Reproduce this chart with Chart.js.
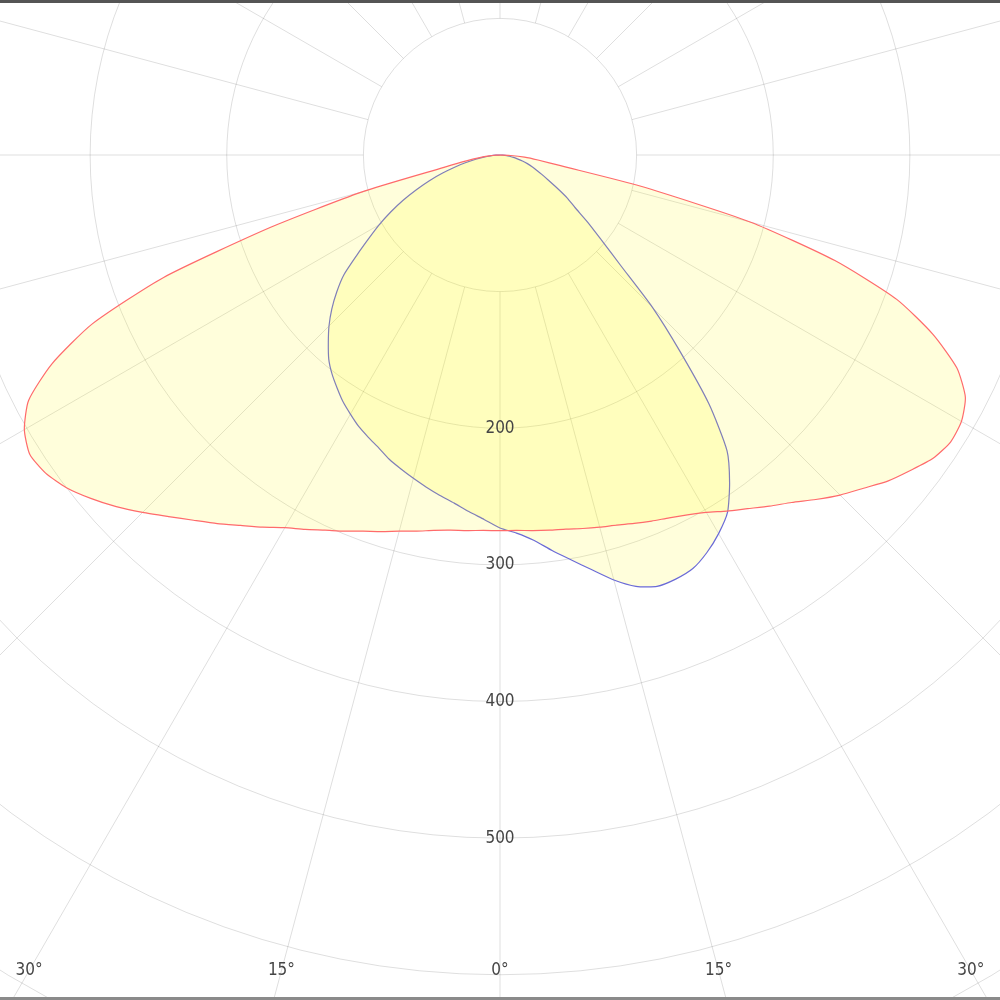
<!DOCTYPE html>
<html>
<head>
<meta charset="utf-8">
<title>Luminous intensity distribution</title>
<script src="https://cdn.jsdelivr.net/npm/chart.js@4.4.1/dist/chart.umd.min.js"></script>
<style>
  html, body { margin: 0; padding: 0; background: #fff; }
  #frame { position: relative; width: 1000px; height: 1000px; overflow: hidden; background: #fff; }
  /* the polar diagram is much bigger than the page: centre sits at (500,155) */
  #holder { position: absolute; left: -593px; top: -938px; width: 2186px; height: 2186px; }
  #edge { position: absolute; left: 0; top: 0; width: 1000px; height: 1000px; box-sizing: border-box;
          border-top: 3px solid #555; border-bottom: 3px solid #8a8a8a; pointer-events: none; }
</style>
</head>
<body>
<div id="frame">
  <div id="holder"><canvas id="polar-chart" width="2186" height="2186"></canvas></div>
  <div id="edge"></div>
</div>
<script>
// gamma angle from straight down, negative = left half, -90 .. 90 in 2.5 deg steps
const angleStep = 2.5;
const gammaAngles = [];
for (let g = -90; g <= 90; g += angleStep) gammaAngles.push(g);

// C0-C180 plane (red), cd/klm
const planeRed = [
  0, 3, 8, 15, 25, 42, 105, 176, 262, 323,
  362, 389, 402, 408, 406, 400, 391, 381, 370, 359,
  349, 340, 331, 323, 315, 309, 303, 298, 293, 289,
  285, 282, 279, 277, 276, 275,
  275,
  275, 276, 277, 278, 280, 282, 284, 287, 290, 293,
  297, 302, 309, 316, 324, 332, 342, 352, 361, 371,
  379, 387, 391, 390, 384, 369, 343, 309, 257, 190,
  105, 45, 28, 18, 8, 0
];

// C90-C270 plane (blue)
const planeBlue = [
  0, 3, 7, 12, 18, 26, 34, 44, 55, 66,
  78, 90, 102, 114, 128, 144, 156, 167, 177, 186,
  195, 202, 208, 214, 219, 224, 228, 232, 237, 241,
  245, 249, 253, 257, 262, 267,
  273,
  277, 283, 292, 301, 311, 322, 331, 336, 336, 334,
  328, 320, 310, 293, 273, 238, 195, 158, 120, 97,
  81, 67, 58, 48, 40, 34, 29, 25, 21, 17,
  13, 10, 7, 5, 2, 0
];

const ringStep = 100;
const ringMax = 800;
const ringLabels = [200, 300, 400, 500];
const angleLabelGammas = [-30, -15, 0, 15, 30];
const angleLabelRow = 597;   // value on the 0° spoke where the degree labels sit
const spokeStep = 15;

const gridColor = 'rgba(0,0,0,0.13)';
const labelFont = '17px "DejaVu Sans Condensed", "DejaVu Sans", sans-serif';

// radar index 0 points down, indices run clockwise (into the left half first)
const slots = Math.round(360 / angleStep);
const radarLabels = [];
for (let i = 0; i < slots; i++) radarLabels.push(i * angleStep + '°');

function toRadarOrder(values) {
  const out = [];
  const half = Math.round(90 / angleStep);
  for (let i = 0; i < slots; i++) {
    let k = null;
    if (i <= half) k = half - i;                       // left half, gamma = -i*step
    else if (i >= slots - half) k = half + (slots - i); // right half
    out.push(k === null ? 0 : values[k]);
  }
  return out;
}

const polarDecor = {
  id: 'polarDecor',
  beforeDatasetsDraw(chart) {
    const r = chart.scales.r;
    const ctx = chart.ctx;
    const inner = r.getDistanceFromCenterForValue(ringStep);
    ctx.save();
    ctx.strokeStyle = gridColor;
    ctx.lineWidth = 1;
    for (let i = 0; i < slots; i += Math.round(spokeStep / angleStep)) {
      const a = r.getPointPosition(i, inner);
      const b = r.getPointPosition(i, r.drawingArea);
      ctx.beginPath();
      ctx.moveTo(a.x, a.y);
      ctx.lineTo(b.x, b.y);
      ctx.stroke();
    }
    ctx.restore();
  },
  afterDatasetsDraw(chart) {
    const r = chart.scales.r;
    const ctx = chart.ctx;
    ctx.save();
    ctx.font = labelFont;
    ctx.fillStyle = '#454545';
    ctx.textAlign = 'center';
    ctx.textBaseline = 'middle';
    ringLabels.forEach(v => {
      const p = r.getPointPosition(0, r.getDistanceFromCenterForValue(v));
      ctx.fillText(String(v), p.x, p.y);
    });
    const row = r.getDistanceFromCenterForValue(angleLabelRow);
    angleLabelGammas.forEach(g => {
      const x = r.xCenter + row * Math.tan(g * Math.PI / 180);
      ctx.fillText(Math.abs(g) + '°', x, r.yCenter + row);
    });
    ctx.restore();
  }
};

const ctx = document.getElementById('polar-chart').getContext('2d');
new Chart(ctx, {
  type: 'radar',
  data: {
    labels: radarLabels,
    datasets: [
      {
        label: 'C0-C180',
        data: toRadarOrder(planeRed),
        borderColor: '#ff6b6b',
        backgroundColor: 'rgba(255,245,0,0.14)',
        borderWidth: 1.2,
        fill: true,
        tension: 0.2,
        pointRadius: 0
      },
      {
        label: 'C90-C270',
        data: toRadarOrder(planeBlue),
        borderColor: '#6b6bd6',
        backgroundColor: 'rgba(255,245,0,0.14)',
        borderWidth: 1.2,
        fill: true,
        tension: 0.2,
        pointRadius: 0
      }
    ]
  },
  options: {
    responsive: false,
    animation: false,
    layout: { padding: 0 },
    plugins: {
      legend: { display: false },
      tooltip: { enabled: false }
    },
    scales: {
      r: {
        min: 0,
        max: ringMax,
        startAngle: 180,
        ticks: { display: false, stepSize: ringStep },
        grid: { circular: true, color: gridColor, lineWidth: 1 },
        angleLines: { display: false },
        pointLabels: { display: false }
      }
    }
  },
  plugins: [polarDecor]
});
</script>
</body>
</html>
